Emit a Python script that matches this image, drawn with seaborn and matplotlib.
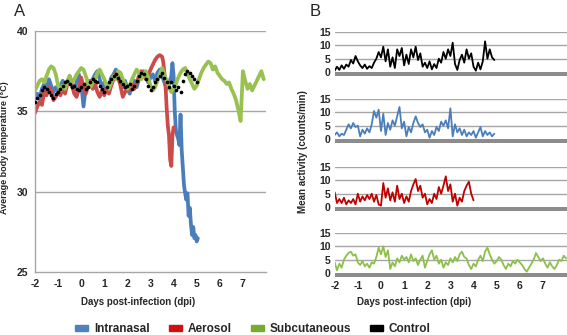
import numpy as np
import pandas as pd
import matplotlib
matplotlib.use("Agg")
import matplotlib.pyplot as plt
import matplotlib.patches as patches
import seaborn as sns

# ---- panel A: average body temperature (deg C), sampled every 0.1 day ----
green_temp = [36.3, 36.6, 36.9, 37.0, 36.8, 37.2, 37.6, 37.8, 37.7, 37.3,
              36.6, 36.3, 36.6, 36.4, 36.9, 37.2, 36.8, 37.0, 37.3, 37.5,
              37.7, 37.6, 37.2, 36.7, 36.5, 36.8, 37.0, 37.4, 37.6, 37.3,
              37.0, 36.6, 36.4, 36.8, 37.2, 37.0, 37.5, 37.4, 37.0, 36.7,
              36.4, 36.6, 37.0, 37.3, 37.6, 37.4, 37.0, 37.2, 37.5, 37.1,
              36.6, 36.3, 36.5, 36.9, 37.3, 37.7, 37.3, 36.9, 36.5, 36.2,
              36.4, 36.7, 37.1, 37.4, 37.6, 37.7, 37.3, 37.0, 36.7, 36.4,
              36.6, 37.0, 37.4, 37.7, 37.9, 38.1, 38.0, 37.6, 37.8, 37.4,
              37.2, 37.0, 36.9, 36.7, 36.8, 36.4, 36.1, 35.7, 35.1, 34.4,
              37.5, 36.9, 36.4, 36.7, 36.3, 36.6, 36.9, 37.2, 37.5, 37.0]

blue_temp = [35.9, 36.1, 35.8, 36.4, 36.7, 36.3, 37.0, 36.6, 36.2, 36.5,
             36.3, 36.6, 36.9, 36.5, 36.8, 37.1, 36.6, 36.3, 36.8, 37.3,
             36.7, 35.3, 36.5, 36.9, 36.6, 37.0, 37.3, 37.5, 37.0, 36.5,
             36.8, 36.3, 36.6, 37.1, 37.3, 37.6, 37.2, 36.8, 36.5, 36.9,
             36.4, 36.1, 36.6, 36.9, 36.5, 37.0, 37.3, 37.5, 37.2, 36.8,
             37.1, 37.3, 36.9, 37.4, 37.6, 37.2, 36.8, 36.4, 36.7, 37.2]
blue_tail_days = [3.95, 4.0, 4.05, 4.1, 4.15, 4.2, 4.25, 4.3, 4.35, 4.4,
                  4.45, 4.5, 4.55, 4.6, 4.65, 4.7, 4.75, 4.8, 4.85, 4.9,
                  4.95, 5.0, 5.05]
blue_tail_temp = [38.0, 37.2, 35.0, 33.8, 33.5, 33.3, 32.9, 34.8, 32.6, 31.5,
                  30.4, 29.9, 29.5, 29.9, 28.5, 29.0, 28.0, 27.3, 27.8, 27.1,
                  27.3, 26.9, 27.1]

red_temp = [34.9, 35.3, 35.6, 35.4, 36.2, 36.0, 36.5, 36.3, 35.7, 35.9,
            36.2, 36.0, 36.4, 36.1, 36.7, 37.2, 36.6, 36.1, 35.9, 36.4,
            37.1, 36.5, 36.1, 36.6, 36.9, 36.4, 36.7, 36.2, 35.9, 36.3,
            36.0, 36.5, 36.1, 36.6, 37.0, 37.4, 37.1, 36.6, 35.9, 36.2,
            36.5, 36.3, 36.7, 36.4, 36.8, 37.2, 37.5, 37.3, 37.0, 37.2,
            37.6, 37.9, 38.2, 38.4, 38.5, 38.4]
red_tail_days = [3.55, 3.6, 3.65, 3.7, 3.75, 3.8, 3.85, 3.9, 3.95, 4.0]
red_tail_temp = [38.1, 37.4, 36.6, 35.2, 34.1, 33.5, 32.0, 31.6, 33.5, 34.0]

black_temp = [35.6, 35.8, 36.0, 36.3, 36.5, 36.4, 36.2, 36.0, 35.8, 36.1,
              36.2, 36.4, 36.6, 36.8, 36.9, 36.7, 36.5, 36.6, 36.4, 36.3,
              36.5, 36.7, 36.4, 36.5, 36.8, 37.0, 36.9, 36.8, 36.6, 36.4,
              36.2, 36.5, 36.8, 37.0, 37.2, 37.3, 37.1, 36.9, 36.7, 36.5,
              36.6, 36.7, 36.4, 36.6, 36.9, 37.2, 37.4, 37.3, 37.0, 36.6,
              36.3, 36.5, 36.8, 37.0, 37.2, 37.4, 37.1, 36.8, 36.5, 36.8,
              36.6, 36.3, 36.5, 36.2, 36.9, 37.3, 37.5, 37.4, 37.2, 37.0,
              36.8]

# ---- panel B: mean activity (counts/min), sampled every 0.1 day ----
black_act = [0.5, 2.0, 0.8, 2.5, 1.2, 2.8, 2.0, 4.5, 3.2, 6.0,
             4.0, 2.5, 1.5, 2.8, 1.2, 2.2, 1.5, 3.5, 5.0, 7.5,
             5.5, 9.5, 4.0, 8.5, 2.0, 5.5, 1.5, 8.5, 6.0, 9.0,
             2.5, 6.5, 3.0, 8.5, 5.5, 9.5, 4.5, 7.0, 2.0, 3.5,
             1.5, 4.0, 1.0, 3.0, 1.5, 5.0, 3.5, 7.5, 5.0, 8.5,
             6.0, 11.0, 3.0, 0.8, 4.5, 6.5, 3.5, 8.5, 5.0, 7.0,
             2.0, 0.5, 3.5, 1.0, 4.0, 11.5, 5.0, 8.5, 5.5, 4.5]

blue_act = [1.5, 2.5, 1.0, 2.0, 1.5, 3.5, 5.5, 4.0, 6.0, 4.5,
            5.0, 1.0, 3.5, 2.0, 4.0, 2.5, 5.5, 10.5, 8.0, 11.0,
            3.0, 9.5, 1.5, 6.0, 3.5, 7.0, 5.0, 8.5, 12.0, 4.0,
            6.5, 1.0, 4.5, 2.5, 6.0, 8.5, 6.0, 4.5, 5.5, 2.5,
            3.5, 0.5, 3.0, 1.5, 4.5, 3.0, 6.5, 5.0, 7.0, 4.0,
            11.5, 1.0, 5.5, 2.5, 4.0, 1.5, 3.5, 1.0, 2.5, 1.5,
            3.0, 0.5, 2.5, 4.5, 1.0, 3.0, 1.5, 2.5, 1.0, 2.0]

red_act = [5.5, 1.5, 3.0, 1.5, 3.5, 1.0, 2.5, 1.5, 3.0, 1.0,
           5.0, 2.0, 4.0, 2.5, 4.5, 3.0, 5.0, 2.0, 4.5, 1.0,
           0.5, 9.0, 3.5, 7.0, 2.5, 5.5, 2.0, 8.0, 3.0, 5.0,
           1.5, 4.0, 2.0, 6.0, 8.5, 10.5, 6.0, 8.0, 3.5, 5.0,
           1.0, 3.0, 1.5, 5.0, 3.0, 7.5, 5.0, 8.0, 11.5, 6.0,
           8.5, 2.0, 5.0, 0.5, 3.5, 2.0, 6.0, 8.0, 9.5, 5.0,
           2.5]

green_act = [4.0, 1.0, 3.5, 2.0, 5.0, 6.5, 7.5, 8.0, 6.5, 7.0,
             4.0, 3.0, 4.5, 2.5, 3.5, 2.0, 4.0, 3.5, 6.0, 9.5,
             7.0, 10.0, 6.0, 8.5, 1.5, 4.0, 2.5, 5.5, 4.0, 6.5,
             5.0, 6.0, 4.0, 7.0, 4.5, 5.5, 3.0, 5.0, 6.5, 2.0,
             4.5, 7.0, 8.5, 5.0, 6.5, 3.5, 5.0, 2.0, 4.0, 3.0,
             5.5, 4.0, 6.0, 4.5, 7.0, 8.0, 6.0, 5.5, 3.0, 1.5,
             3.5, 2.5, 5.0, 6.5, 4.5, 8.0, 9.5, 7.0, 5.0, 3.5,
             4.5, 6.0, 5.0, 3.0, 1.5, 3.5, 2.5, 4.5, 3.5, 5.0,
             4.0, 3.0, 1.5, 0.5, 2.0, 3.5, 5.0, 7.5, 6.0, 4.5,
             5.5, 3.5, 2.0, 4.0, 2.5, 1.5, 3.0, 5.0, 4.5, 6.5,
             5.5]

series_names = ["Intranasal", "Aerosol", "Subcutaneous", "Control"]
day_ticks = [-2, -1, 0, 1, 2, 3, 4, 5, 6, 7]


def days_from(start, n):
    return np.round(start + 0.1 * np.arange(n), 2)


blue_df = pd.DataFrame({"day": np.concatenate([days_from(-2, len(blue_temp)), blue_tail_days]),
                        "temp": blue_temp + blue_tail_temp})
red_df = pd.DataFrame({"day": np.concatenate([days_from(-2, len(red_temp)), red_tail_days]),
                       "temp": red_temp + red_tail_temp})
green_df = pd.DataFrame({"day": days_from(-2, len(green_temp)), "temp": green_temp})
black_df = pd.DataFrame({"day": days_from(-2, len(black_temp)), "temp": black_temp})

sns.set_style("white")
plt.rcParams['font.family'] = ['Liberation Sans', 'DejaVu Sans']
plt.rcParams['axes.unicode_minus'] = False

W, H = 567, 335
fig = plt.figure(figsize=(W / 100, H / 100), dpi=100)
grid_col = '#a6a6a6'

# panel A
axA = fig.add_axes([35 / W, 1 - 272 / H, 231 / W, 241 / H])
for y in [30, 35, 40]:
    axA.axhline(y, color=grid_col, lw=1, zorder=0)
sns.lineplot(data=blue_df, x="day", y="temp", color='#4a7ebb', lw=2.7, sort=False, estimator=None, ax=axA)
sns.lineplot(data=red_df, x="day", y="temp", color='#cc4a48', lw=2.7, sort=False, estimator=None, ax=axA)
sns.lineplot(data=green_df, x="day", y="temp", color='#98c152', lw=2.7, sort=False, estimator=None, ax=axA)
sns.scatterplot(data=black_df, x="day", y="temp", color='black', s=7, linewidth=0, ax=axA, zorder=5)
axA.set_xlim(-2, 8)
axA.set_ylim(25, 40)
axA.set_xticks(day_ticks)
axA.set_yticks([25, 30, 35, 40])
axA.set_xlabel("")
axA.set_ylabel("")
for s in ['top', 'right']:
    axA.spines[s].set_visible(False)
for s in ['left', 'bottom']:
    axA.spines[s].set_color(grid_col)
    axA.spines[s].set_linewidth(1)
axA.tick_params(axis='both', length=3, width=1, color=grid_col, labelsize=7.5, pad=2)
for lab in axA.get_xticklabels() + axA.get_yticklabels():
    lab.set_fontweight('bold')

# panel B
act_data = [(black_act, 'black'), (blue_act, '#4a7ebb'), (red_act, '#c00000'), (green_act, '#8cc04a')]
tops = [32, 99, 167, 233]
for i, ((vals, col), top) in enumerate(zip(act_data, tops)):
    ax = fig.add_axes([334.7 / W, 1 - (top + 44.3) / H, (W - 334.7) / W, 44.3 / H])
    for y in [5, 10, 15]:
        ax.axhline(y, color=grid_col, lw=1, zorder=0)
    ax.axhspan(-1.6, 0, color='#8c8c8c', lw=0, zorder=1)
    df = pd.DataFrame({"day": days_from(-2, len(vals)), "act": vals})
    sns.lineplot(data=df, x="day", y="act", color=col, lw=1.3, estimator=None, ax=ax, zorder=3)
    ax.set_xlim(-2, 8.04)
    ax.set_ylim(-1.6, 15)
    ax.set_yticks([0, 5, 10, 15])
    ax.set_xticks(day_ticks)
    ax.set_xlabel("")
    ax.set_ylabel("")
    for s in ax.spines.values():
        s.set_visible(False)
    ax.tick_params(axis='both', length=0, labelsize=7.5, pad=3)
    if i < 3:
        ax.set_xticklabels([])
    for lab in ax.get_xticklabels() + ax.get_yticklabels():
        lab.set_fontweight('bold')

# labels
fig.text(20 / W, 1 - 12 / H, "A", fontsize=12, ha='center', va='center')
fig.text(315 / W, 1 - 12 / H, "B", fontsize=12, ha='center', va='center')
fig.text(5 / W, 1 - 148 / H, "Average body temperature (°C)", rotation=90,
         fontsize=6.5, fontweight='bold', ha='center', va='center')
fig.text(303 / W, 1 - 152 / H, "Mean activity (counts/min)", rotation=90,
         fontsize=7, fontweight='bold', ha='center', va='center')
fig.text(138 / W, 1 - 302 / H, "Days post-infection (dpi)", fontsize=7,
         fontweight='bold', ha='center', va='center')
fig.text(414 / W, 1 - 302 / H, "Days post-infection (dpi)", fontsize=7,
         fontweight='bold', ha='center', va='center')

legend_cols = ['#4f81bd', '#d01010', '#77aa2e', 'black']
handles = [patches.Patch(color=c, label=n) for c, n in zip(legend_cols, series_names)]
leg = fig.legend(handles=handles, loc='center', bbox_to_anchor=(253 / W, 1 - 329 / H),
                 ncol=4, frameon=False, handlelength=1.1, handleheight=0.45,
                 handletextpad=0.5, columnspacing=1.6, borderpad=0,
                 prop={'size': 8.5, 'weight': 'bold'})

fig.savefig("out.png", dpi=100)
